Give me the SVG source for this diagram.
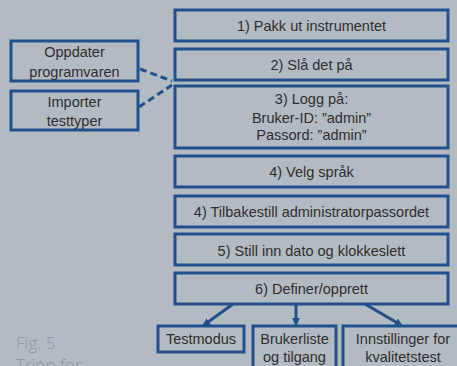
<svg xmlns="http://www.w3.org/2000/svg" width="457" height="366" viewBox="0 0 457 366">
<defs>
<style>
.box{fill:none;stroke:#21508b;stroke-width:3}
.t{font-family:"Liberation Sans",Arial,sans-serif;font-size:14.5px;fill:#2e2e2e;text-anchor:middle}
.c{stroke:#21508b;stroke-width:3;fill:none}
.d{stroke:#21508b;stroke-width:3;fill:none;stroke-dasharray:7,4}
.fig{font-family:"Open Sans","Liberation Sans",sans-serif;font-size:17px;fill:#8d969d;font-weight:300}
</style>
<marker id="ah" markerWidth="8" markerHeight="8" refX="6" refY="4" orient="auto" markerUnits="userSpaceOnUse" viewBox="0 0 8 8">
<path d="M0,0 L8,4 L0,8 Z" fill="#21508b"/>
</marker>
</defs>
<rect width="457" height="366" fill="#b3bbc2"/>
<g id="n1"><rect class="box" x="175" y="10" width="273" height="31"/><text class="t" x="311.5" y="30.5">1) Pakk ut instrumentet</text></g>
<g id="n2"><rect class="box" x="175" y="49" width="273" height="31"/><text class="t" x="311.5" y="69.5">2) Slå det på</text></g>
<g id="n3"><rect class="box" x="175" y="86" width="273" height="62"/><text class="t" x="311.5" y="104">3) Logg på:</text><text class="t" x="311.5" y="123">Bruker-ID: ”admin”</text><text class="t" x="311.5" y="140">Passord: ”admin”</text></g>
<g id="n4"><rect class="box" x="175" y="156" width="273" height="31"/><text class="t" x="311.5" y="177">4) Velg språk</text></g>
<g id="n4b"><rect class="box" x="175" y="196" width="273" height="31"/><text class="t" x="311.5" y="217">4) Tilbakestill administratorpassordet</text></g>
<g id="n5"><rect class="box" x="175" y="234" width="273" height="31"/><text class="t" x="311.5" y="255.5">5) Still inn dato og klokkeslett</text></g>
<g id="n6"><rect class="box" x="175" y="273" width="273" height="31"/><text class="t" x="311.5" y="294">6) Definer/opprett</text></g>
<g id="u1"><rect class="box" x="11" y="41" width="127" height="40"/><text class="t" x="74.5" y="57">Oppdater</text><text class="t" x="74.5" y="76.5">programvaren</text></g>
<g id="u2"><rect class="box" x="11" y="91" width="127" height="39"/><text class="t" x="74.5" y="107">Importer</text><text class="t" x="74.5" y="126">testtyper</text></g>
<g id="b1"><rect class="box" x="158" y="326" width="86" height="26"/><text class="t" x="201" y="344">Testmodus</text></g>
<g id="b2"><rect class="box" x="253" y="326" width="83" height="44"/><text class="t" x="294.5" y="344">Brukerliste</text><text class="t" x="294.5" y="362">og tilgang</text></g>
<g id="b3"><rect class="box" x="343" y="326" width="118" height="44"/><text class="t" x="403" y="344">Innstillinger for</text><text class="t" x="403" y="362">kvalitetstest</text></g>
<g id="connectors">
<path class="d" d="M140,69 L172,81"/>
<path class="d" d="M139,107 L172,85"/>
<path class="c" d="M233,304 L204,325" marker-end="url(#ah)"/>
<path class="c" d="M296,304 L296,324" marker-end="url(#ah)"/>
<path class="c" d="M365,304 L401,325" marker-end="url(#ah)"/>
</g>
<text class="fig" x="16" y="349">Fig. 5</text>
<text class="fig" x="16" y="371">Tripp for</text>
</svg>
